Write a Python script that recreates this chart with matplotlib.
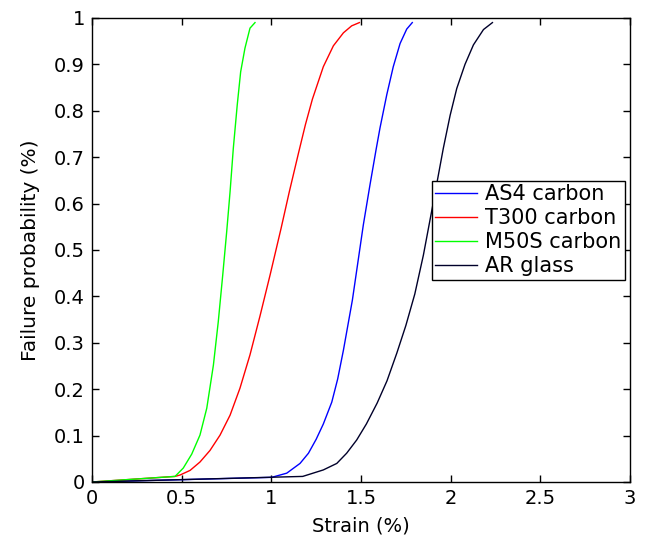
import matplotlib
matplotlib.use("Agg")
import matplotlib.pyplot as plt
from matplotlib.ticker import FuncFormatter

# Data (strain %, failure probability)
as4_x = [0.0, 1.002, 1.086, 1.160, 1.207, 1.250, 1.290, 1.337, 1.370, 1.402, 1.452, 1.513,
         1.550, 1.584, 1.606, 1.644, 1.680, 1.718, 1.755, 1.786]
as4_y = [0.0, 0.010, 0.019, 0.040, 0.062, 0.092, 0.125, 0.172, 0.222, 0.284, 0.392, 0.554,
         0.640, 0.716, 0.763, 0.835, 0.895, 0.945, 0.976, 0.99]

t300_x = [0.0, 0.463, 0.491, 0.547, 0.602, 0.658, 0.714, 0.770, 0.825, 0.881, 0.937, 0.993,
          1.054, 1.100, 1.151, 1.190, 1.229, 1.290, 1.346, 1.402, 1.448, 1.491]
t300_y = [0.0, 0.012, 0.015, 0.025, 0.043, 0.068, 0.101, 0.144, 0.202, 0.274, 0.358, 0.446,
          0.546, 0.625, 0.708, 0.770, 0.825, 0.895, 0.940, 0.968, 0.983, 0.99]

m50s_x = [0.0, 0.463, 0.509, 0.556, 0.602, 0.640, 0.677, 0.704, 0.729, 0.751, 0.770, 0.788,
          0.810, 0.829, 0.853, 0.881, 0.909]
m50s_y = [0.0, 0.012, 0.030, 0.060, 0.101, 0.159, 0.252, 0.345, 0.446, 0.539, 0.626, 0.719,
          0.813, 0.884, 0.935, 0.978, 0.99]

ar_x = [0.0, 1.175, 1.290, 1.365, 1.420, 1.476, 1.530, 1.590, 1.645, 1.700, 1.750, 1.800,
        1.848, 1.904, 1.959, 1.997, 2.034, 2.080, 2.127, 2.183, 2.233]
ar_y = [0.0, 0.012, 0.026, 0.040, 0.062, 0.0905, 0.125, 0.170, 0.218, 0.278, 0.337, 0.405,
        0.489, 0.604, 0.719, 0.790, 0.848, 0.900, 0.942, 0.975, 0.99]

labels = ["AS4 carbon", "T300 carbon", "M50S carbon", "AR glass"]
colors = ["#0000ff", "#ff0000", "#00ff00", "#00002a"]

x_ticks = [0, 0.5, 1, 1.5, 2, 2.5, 3]
y_ticks = [0, 0.1, 0.2, 0.3, 0.4, 0.5, 0.6, 0.7, 0.8, 0.9, 1]

fig = plt.figure(figsize=(6.47, 5.44), dpi=100)
ax = fig.add_axes([0.1422, 0.114, 0.8315, 0.853])

series = [(as4_x, as4_y), (t300_x, t300_y), (m50s_x, m50s_y), (ar_x, ar_y)]
for (xs, ys), lab, c in zip(series, labels, colors):
    ax.plot(xs, ys, color=c, lw=1.0, label=lab, solid_joinstyle="round")

ax.set_xlim(0, 3)
ax.set_ylim(0, 1)
ax.set_xticks(x_ticks)
ax.set_yticks(y_ticks)
fmt = FuncFormatter(lambda v, p: "%g" % v)
ax.xaxis.set_major_formatter(fmt)
ax.yaxis.set_major_formatter(fmt)
ax.tick_params(direction="in", top=True, right=True, labelsize=14, length=5, width=1, pad=5)
for s in ax.spines.values():
    s.set_linewidth(1.0)

ax.set_xlabel("Strain (%)", fontsize=14, labelpad=6)
ax.set_ylabel("Failure probability (%)", fontsize=14.5, labelpad=10)

leg = ax.legend(loc="upper left", bbox_to_anchor=(0.632, 0.649), fontsize=15,
                frameon=True, fancybox=False, edgecolor="black", framealpha=1,
                handlelength=2.0, borderpad=0.15, labelspacing=0.2, handletextpad=0.4,
                borderaxespad=0)
leg.get_frame().set_linewidth(1.0)

fig.savefig("out.png", dpi=100)
